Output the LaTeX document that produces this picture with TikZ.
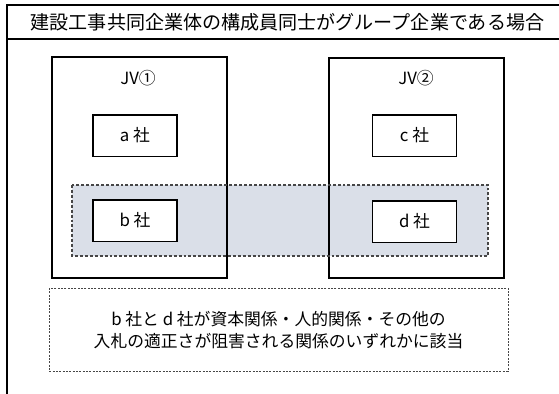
\documentclass[tikz,border=0pt]{standalone}
\usepackage{fontspec}
\newfontfamily\jp{Noto Sans CJK JP}
\definecolor{bandfill}{RGB}{218,223,232}
\definecolor{dashgray}{RGB}{70,70,70}
\begin{document}
\begin{tikzpicture}[x=0.75pt,y=-0.75pt,
  frame/.style={draw=black,line width=1.6pt},
  jvbox/.style={draw=black,line width=1pt},
  cobox/.style={draw=black,fill=white,line width=1pt,minimum width=63pt,minimum height=31pt,inner sep=0pt,font=\jp\fontsize{12.6}{15}\selectfont},
  lbl/.style={font=\jp\fontsize{12.6}{15}\selectfont,inner sep=0pt},
  title/.style={font=\jp\fontsize{14.3}{17}\selectfont,inner sep=0pt},
  band/.style={draw=dashgray,dash pattern=on 2.2pt off 1.5pt,line width=0.8pt},
  note/.style={draw=dashgray,dash pattern=on 1.5pt off 1pt,line width=0.7pt}
]
\useasboundingbox (0,0) rectangle (559,393);
\fill[white] (0,0) rectangle (559,393);
% outer frame
\coordinate (tl) at (7,5);
\coordinate (tr) at (560,5);
\coordinate (ml) at (7,39);
\coordinate (mr) at (560,39);
\coordinate (bl) at (7,394);
\draw[frame] (tr) -- (tl) -- (bl);
\draw[frame] (ml) -- (mr);
\node[title] (ttl) at (287.5,22) {建設工事共同企業体の構成員同士がグループ企業である場合};
% shaded band
\fill[bandfill] (72,185) rectangle (488,256);
% JV boxes
\draw[jvbox] (52,57) rectangle (227,278);
\draw[jvbox] (329,58) rectangle (504,278);
\draw[band] (72,185) rectangle (488,256);
\node[lbl] (jv1) at (138,78) {JV①};
\node[lbl] (jv2) at (416,78) {JV②};
% companies
\node[cobox] (a) at (135,135.5) {a 社};
\node[cobox] (b) at (135,220.5) {b 社};
\node[cobox] (c) at (414.5,135.5) {c 社};
\node[cobox] (d) at (414.5,221.5) {d 社};
% note box
\draw[note] (49,288) rectangle (508,371);
\node[lbl,align=center] (n1) at (278.5,319) {b 社と d 社が資本関係・人的関係・その他の};
\node[lbl,align=center] (n2) at (278.5,341) {入札の適正さが阻害される関係のいずれかに該当};
\end{tikzpicture}
\end{document}
